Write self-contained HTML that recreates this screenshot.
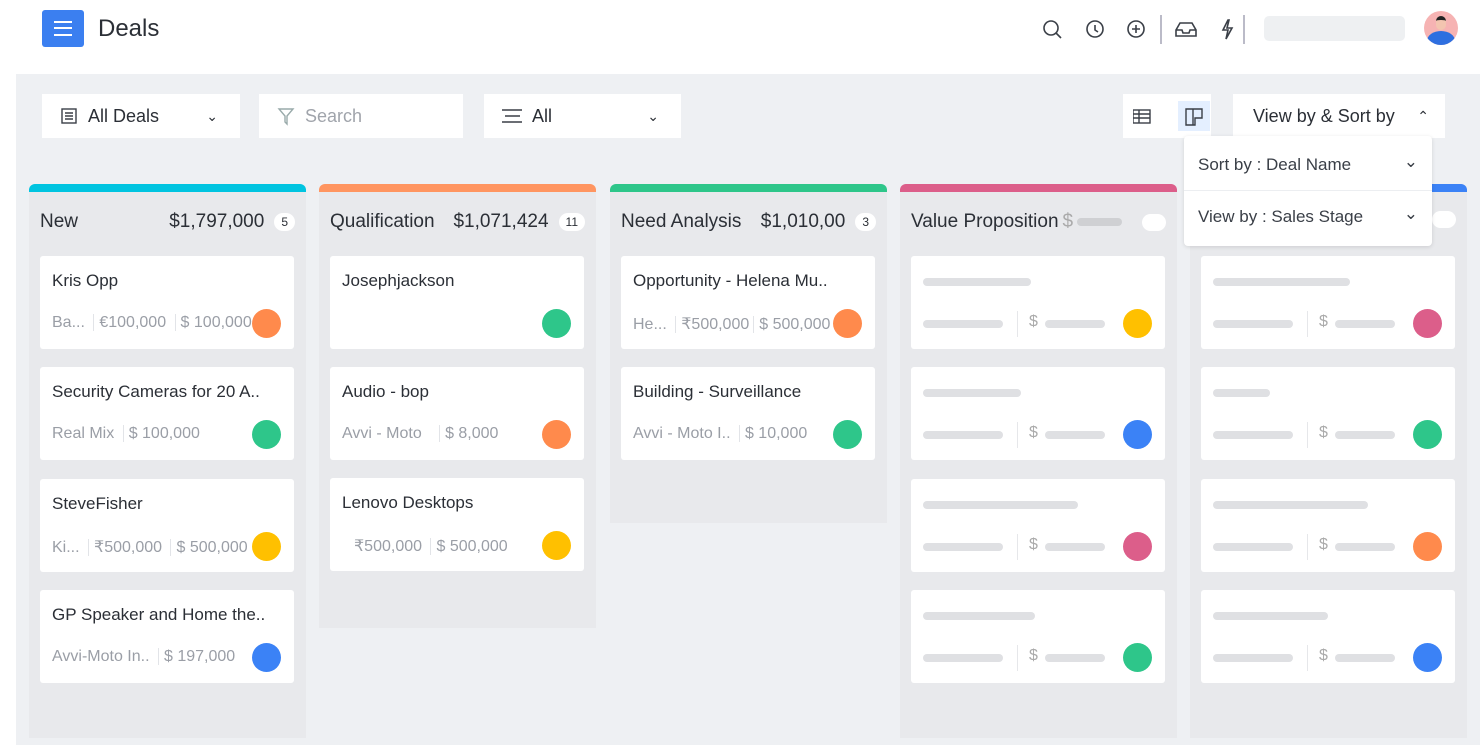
<!DOCTYPE html>
<html><head><meta charset="utf-8"><style>
*{box-sizing:border-box;margin:0;padding:0}
body{width:1480px;height:745px;overflow:hidden;background:#fff;font-family:"Liberation Sans",sans-serif;color:#2b2f36;position:relative}
.abs{position:absolute}
.gray{position:absolute;left:16px;top:74px;width:1464px;height:671px;background:#eef0f3}
.box{position:absolute;background:#fff;height:44px;top:94px;font-size:18px;display:flex;align-items:center}
.col{position:absolute;top:184px;width:277px;background:#e8e9ec;border-radius:6px 6px 0 0;overflow:hidden}
.col .bar{height:8px}
.hd{position:absolute;top:27px;left:11px;right:11px;font-size:19px;display:flex;align-items:center;white-space:nowrap}
.cnt{display:inline-block;background:#fff;border-radius:9px;font-size:12px;padding:2px 7px;margin-left:10px}
.card{position:absolute;left:11px;width:254px;height:93px;background:#fff;border-radius:3px}
.t{position:absolute;left:12px;top:15px;font-size:17px;color:#2b2f36;white-space:nowrap}
.s{position:absolute;left:12px;top:58px;font-size:16px;color:#9a9ea6;white-space:nowrap}
.s b{font-weight:normal;border-left:1px solid #e2e4e8;padding-left:5px;margin-left:4px}
.dot{position:absolute;right:13px;top:53px;width:29px;height:29px;border-radius:50%}
.ln{position:absolute;height:8px;background:#dfe0e3;border-radius:4px}
</style></head><body>
<div class="gray"></div>
<div class="abs" style="left:42px;top:10px;width:42px;height:37px;background:#3b7ff0;border-radius:3px">
<div class="abs" style="left:12px;top:11px;width:18px;height:2px;background:#fff"></div>
<div class="abs" style="left:12px;top:17px;width:18px;height:2px;background:#fff"></div>
<div class="abs" style="left:12px;top:24px;width:18px;height:2px;background:#fff"></div></div>
<div class="abs" style="left:98px;top:15px;font-size:24px">Deals</div>
<svg class="abs" style="left:1040px;top:15px" width="220" height="32" fill="none" stroke="#3a3f47" stroke-width="1.6">
<circle cx="11" cy="13" r="7"/><line x1="16" y1="18" x2="21" y2="23"/>
<circle cx="55" cy="14" r="8"/><path d="M55 10v5l3 2"/>
<circle cx="96" cy="14" r="8"/><path d="M96 10v8M92 14h8"/>
<line x1="121" y1="-2" x2="121" y2="29" stroke="#aab"/>
<path d="M136 15l4-7h12l4 7v6h-20z M136 15h6l1 3h6l1-3h6"/>
<path d="M188 5l-5 10h5l-2 9 6-11h-5l2-8z"/>
<line x1="204" y1="-2" x2="204" y2="29" stroke="#aab"/>
</svg>
<div class="abs" style="left:1264px;top:16px;width:141px;height:25px;background:#eef0f2;border-radius:5px"></div>
<div class="abs" style="left:1424px;top:11px;width:34px;height:34px;border-radius:50%;background:#f6b3b3;overflow:hidden"><div class="abs" style="left:3px;top:20px;width:28px;height:20px;border-radius:50%;background:#2e6fe0"></div><div class="abs" style="left:12px;top:5px;width:10px;height:14px;border-radius:5px;background:#f3c5b0;border-top:4px solid #222"></div></div>

<div class="box" style="left:42px;width:198px"><svg style="margin:0 10px 0 18px" width="18" height="18" fill="none" stroke="#3a3f47" stroke-width="1.4"><rect x="2" y="2" width="14" height="14"/><path d="M5 6h8M5 9h8M5 12h8"/></svg>All Deals<span style="position:absolute;right:22px;font-size:14px">&#8964;</span></div>
<div class="box" style="left:259px;width:204px;color:#a0a4ab"><svg style="margin:0 10px 0 18px" width="18" height="20" fill="none" stroke="#9aa" stroke-width="1.4"><path d="M2 3h14l-6 7v8l-2-2v-6z"/></svg>Search</div>
<div class="box" style="left:484px;width:197px"><svg style="margin:0 8px 0 16px" width="24" height="18" stroke="#3a3f47" stroke-width="1.6"><path d="M2 3h20M5 9h15M2 15h20"/></svg>All<span style="position:absolute;right:22px;font-size:14px">&#8964;</span></div>
<div class="box" style="left:1123px;width:88px"><svg style="margin-left:10px" width="80" height="30" fill="none" stroke="#3a3f47" stroke-width="1.4"><rect x="0" y="9" width="17" height="13"/><path d="M0 13h17M0 17h17M6 9v13"/><rect x="45" y="0" width="32" height="30" fill="#e4efff" stroke="none"/><path d="M53 8h16v9h-7v7h-9zM60 8v16"/></svg></div>
<div class="box" style="left:1233px;width:212px;padding-left:20px">View by &amp; Sort by<span style="position:absolute;right:16px;font-size:14px">&#8963;</span></div>
<div class="abs" style="left:1184px;top:136px;width:248px;height:110px;background:#fff;border-radius:4px;box-shadow:0 1px 4px rgba(0,0,0,.12);z-index:5;font-size:17px;color:#3a3f47">
<div style="position:absolute;left:14px;top:19px">Sort by : Deal Name</div><div style="position:absolute;right:14px;top:16px">&#8964;</div>
<div style="position:absolute;left:0;right:0;top:54px;border-top:1px solid #eceef1"></div>
<div style="position:absolute;left:14px;top:71px">View by : Sales Stage</div><div style="position:absolute;right:14px;top:68px">&#8964;</div></div>

<div class="col" style="left:29px;height:554px"><div class="bar" style="background:#00c4e0"></div>
<div class="hd"><span>New</span><span style="margin-left:auto">$1,797,000</span><span class="cnt">5</span></div>
<div class="card" style="top:72px"><div class="t">Kris Opp</div><div class="s">Ba... <b>€100,000</b> <b>$ 100,000</b></div><div class="dot" style="background:#ff8a4c"></div></div>
<div class="card" style="top:183px"><div class="t">Security Cameras for 20 A..</div><div class="s">Real Mix <b>$ 100,000</b></div><div class="dot" style="background:#2ec68a"></div></div>
<div class="card" style="top:295px"><div class="t">SteveFisher</div><div class="s">Ki... <b>₹500,000</b> <b>$ 500,000</b></div><div class="dot" style="background:#ffc000"></div></div>
<div class="card" style="top:406px"><div class="t">GP Speaker and Home the..</div><div class="s">Avvi-Moto In.. <b>$ 197,000</b></div><div class="dot" style="background:#3b82f6"></div></div></div>

<div class="col" style="left:319px;height:444px"><div class="bar" style="background:#ff9560"></div>
<div class="hd"><span>Qualification</span><span style="margin-left:auto">$1,071,424</span><span class="cnt">11</span></div>
<div class="card" style="top:72px"><div class="t">Josephjackson</div><div class="dot" style="background:#2ec68a"></div></div>
<div class="card" style="top:183px"><div class="t">Audio - bop</div><div class="s">Avvi - Moto &nbsp;&nbsp;<b>$ 8,000</b></div><div class="dot" style="background:#ff8a4c"></div></div>
<div class="card" style="top:294px"><div class="t">Lenovo Desktops</div><div class="s" style="left:24px">₹500,000 <b>$ 500,000</b></div><div class="dot" style="background:#ffc000"></div></div></div>

<div class="col" style="left:610px;height:339px"><div class="bar" style="background:#2ec68a"></div>
<div class="hd"><span>Need Analysis</span><span style="margin-left:auto">$1,010,00</span><span class="cnt">3</span></div>
<div class="card" style="top:72px"><div class="t">Opportunity - Helena Mu..</div><div class="s">He... <b>₹500,000</b><b>$ 500,000</b></div><div class="dot" style="background:#ff8a4c"></div></div>
<div class="card" style="top:183px"><div class="t">Building - Surveillance</div><div class="s">Avvi - Moto I.. <b>$ 10,000</b></div><div class="dot" style="background:#2ec68a"></div></div></div>

<div class="col" style="left:900px;height:554px"><div class="bar" style="background:#dc5e8a"></div>
<div class="hd"><span>Value Proposition</span><span style="color:#aaa;margin-left:4px">$</span><span style="display:inline-block;width:45px;height:8px;border-radius:4px;background:#cfd0d3;margin-left:4px"></span><span class="cnt" style="margin-left:auto;width:24px;height:17px"></span></div>
</div>
<div class="col" style="left:1190px;height:554px"><div class="bar" style="background:#3b82f6"></div>
<div class="hd"><span class="cnt" style="margin-left:auto;width:24px;height:17px"></span></div></div>
<div id="ph"></div>
<script>
var cols=[[900,['#ffc000','#3b82f6','#dc5e8a','#2ec68a'],[108,98,155,112]],[1190,['#dc5e8a','#2ec68a','#ff8a4c','#3b82f6'],[137,57,155,115]]];
var h='';cols.forEach(function(c){for(var i=0;i<4;i++){var y=256+i*111.3,x=c[0]+11;
h+='<div class="card" style="left:'+x+'px;top:'+y+'px;z-index:1"><div class="ln" style="left:12px;top:22px;width:'+c[2][i]+'px"></div><div class="ln" style="left:12px;top:64px;width:80px"></div><div style="position:absolute;left:106px;top:55px;height:26px;border-left:1px solid #e6e7ea"></div><div style="position:absolute;left:118px;top:57px;font-size:16px;color:#aaa">$</div><div class="ln" style="left:134px;top:64px;width:60px"></div><div class="dot" style="background:'+c[1][i]+'"></div></div>';}});
document.getElementById('ph').innerHTML=h;
</script>
</body></html>
